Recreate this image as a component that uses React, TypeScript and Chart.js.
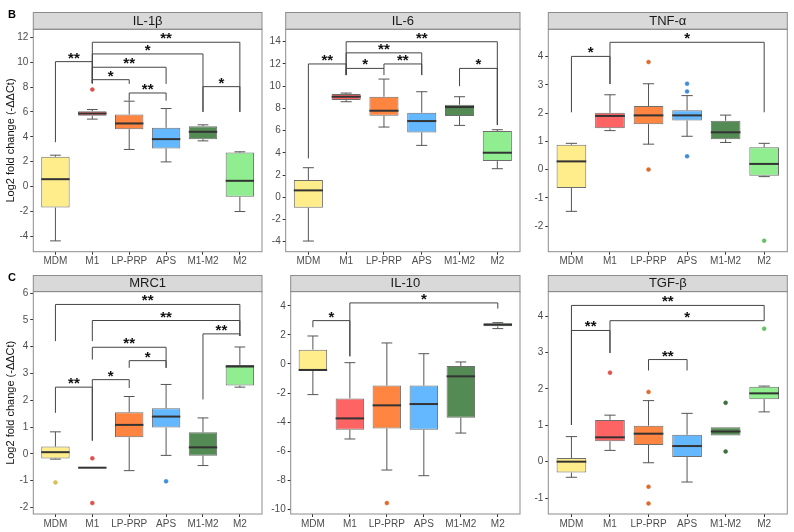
import React, { useEffect, useRef } from 'react';
import { Chart, registerables } from 'chart.js';
Chart.register(...registerables);

const categories = ['MDM', 'M1', 'LP-PRP', 'APS', 'M1-M2', 'M2'];
const boxColors = ['#FFEC8B', '#FF6464', '#FF8540', '#63B8FF', '#548B54', '#90EE90'];
const pointColors = ['#D9BE55', '#E0504A', '#E06A2A', '#3F8FD8', '#3E6E3E', '#63C063'];

// IL-1β
const il1bMin = [-4.37, 5.42, 2.98, 1.98, 3.67, -2.01];
const il1bQ1 = [-1.69, 5.68, 4.61, 3.06, 3.81, -0.83];
const il1bMedian = [0.59, 5.87, 5.07, 3.81, 4.4, 0.46];
const il1bQ3 = [2.39, 6.06, 5.79, 4.72, 4.85, 2.73];
const il1bMax = [2.52, 6.19, 6.86, 6.27, 4.96, 2.79];
const il1bOutliers = [[1, 7.8]];
const il1bTicks = [-4, -2, 0, 2, 4, 6, 8, 10, 12];
// [from, to, bracket y, left end, right end, label]
const il1bBrackets = [
  [1, 5, 11.6, 8.3, 6.0, '**'],
  [1, 4, 10.66, 8.3, 6.0, '*'],
  [0, 1, 10.04, 3.56, 8.3, '**'],
  [1, 3, 9.59, 8.3, 8.25, '**'],
  [1, 2, 8.59, 8.3, 8.25, '*'],
  [4, 5, 8.03, 6.0, 6.0, '*'],
  [2, 3, 7.52, 6.9, 6.9, '**'],
];

// IL-6
const il6Min = [-3.94, 8.6, 6.32, 4.67, 6.47, 2.57];
const il6Q1 = [-0.94, 8.75, 7.34, 5.84, 7.31, 3.26];
const il6Median = [0.62, 9.05, 7.79, 6.86, 8.12, 4.01];
const il6Q3 = [1.55, 9.29, 9.05, 7.61, 8.33, 5.96];
const il6Max = [2.66, 9.38, 10.64, 9.5, 9.05, 6.08];
const il6Outliers: number[][] = [];
const il6Ticks = [-4, -2, 0, 2, 4, 6, 8, 10, 12, 14];
const il6Brackets = [
  [1, 5, 14.0, 11.0, 6.5, '**'],
  [1, 3, 13.0, 11.0, 11.0, '**'],
  [0, 1, 12.0, 3.5, 11.0, '**'],
  [2, 3, 12.0, 11.6, 11.0, '**'],
  [1, 2, 11.6, 11.0, 11.0, '*'],
  [4, 5, 11.6, 10.0, 6.5, '*'],
];

// TNF-α
const tnfMin = [-1.48, 1.38, 0.9, 1.18, 0.96, -0.25];
const tnfQ1 = [-0.65, 1.46, 1.61, 1.74, 1.07, -0.22];
const tnfMedian = [0.29, 1.9, 1.92, 1.92, 1.32, 0.2];
const tnfQ3 = [0.88, 2.01, 2.25, 2.1, 1.73, 0.79];
const tnfMax = [0.93, 2.65, 3.04, 2.62, 1.93, 0.93];
const tnfOutliers = [[2, 3.81], [2, 0.0], [3, 3.04], [3, 2.77], [3, 0.47], [5, -2.52]];
const tnfTicks = [-2, -1, 0, 1, 2, 3, 4];
const tnfBrackets = [
  [1, 5, 4.51, 3.03, 2.03, '*'],
  [0, 1, 4.01, 2.03, 3.03, '*'],
];

// MRC1
const mrc1Min = [-0.2, -0.52, -0.63, -0.06, -0.44, 2.49];
const mrc1Q1 = [-0.18, -0.52, 0.62, 0.98, -0.07, 2.55];
const mrc1Median = [0.06, -0.52, 1.08, 1.39, 0.24, 3.26];
const mrc1Q3 = [0.27, -0.52, 1.55, 1.7, 0.8, 3.32];
const mrc1Max = [0.82, -0.52, 2.14, 2.59, 1.34, 3.99];
const mrc1Outliers = [[0, -1.07], [1, -0.17], [1, -1.84], [3, -1.03]];
const mrc1Ticks = [-2, -1, 0, 1, 2, 3, 4, 5, 6];
const mrc1Brackets = [
  [0, 5, 5.58, 4.21, 4.4, '**'],
  [1, 5, 4.98, 4.21, 4.4, '**'],
  [4, 5, 4.48, 2.03, 4.4, '**'],
  [1, 3, 3.98, 3.52, 3.21, '**'],
  [2, 3, 3.48, 3.21, 3.21, '*'],
  [1, 2, 2.77, 0.49, 2.46, '*'],
  [0, 1, 2.49, 1.53, 0.49, '**'],
];

// IL-10
const il10Min = [-2.11, -5.17, -7.31, -7.7, -4.76, 2.44];
const il10Q1 = [-0.48, -4.53, -4.44, -4.53, -3.7, 2.6];
const il10Median = [-0.41, -3.75, -2.85, -2.76, -0.85, 2.71];
const il10Q3 = [0.99, -2.37, -1.49, -1.49, -0.14, 2.8];
const il10Max = [1.93, 0.09, 1.45, 0.71, 0.14, 2.85];
const il10Outliers = [[2, -9.59]];
const il10Ticks = [-10, -8, -6, -4, -2, 0, 2, 4];
const il10Brackets = [
  [1, 5, 4.21, 0.53, 3.82, '*'],
  [0, 1, 2.99, 2.53, 0.53, '*'],
];

// TGF-β
const tgfMin = [-0.43, 0.31, -0.03, -0.56, 0.72, 1.37];
const tgfQ1 = [-0.3, 0.56, 0.46, 0.13, 0.72, 1.72];
const tgfMedian = [0.0, 0.67, 0.77, 0.43, 0.83, 1.88];
const tgfQ3 = [0.1, 1.15, 0.99, 0.74, 0.95, 2.06];
const tgfMax = [0.69, 1.28, 1.68, 1.33, 0.95, 2.08];
const tgfOutliers = [[1, 2.45], [2, 1.92], [2, -0.69], [2, -1.15], [4, 1.62], [4, 0.28], [5, 3.66]];
const tgfTicks = [-1, 0, 1, 2, 3, 4];
const tgfBrackets = [
  [0, 5, 4.3, 1.01, 3.88, '**'],
  [1, 5, 3.88, 2.99, 3.88, '*'],
  [0, 1, 3.61, 1.01, 2.99, '**'],
  [2, 3, 2.81, 2.51, 2.51, '**'],
];

const yTitleText = 'Log2 fold change (-ΔΔCt)';

const panels = [
  { key: 'il1b', title: 'IL-1β', min: il1bMin, q1: il1bQ1, med: il1bMedian, q3: il1bQ3, max: il1bMax, outliers: il1bOutliers, brackets: il1bBrackets, ticks: il1bTicks, yMin: -5.24, yMax: 12.64, yTitle: true },
  { key: 'il6', title: 'IL-6', min: il6Min, q1: il6Q1, med: il6Median, q3: il6Q3, max: il6Max, outliers: il6Outliers, brackets: il6Brackets, ticks: il6Ticks, yMin: -4.9, yMax: 15.12, yTitle: false },
  { key: 'tnf', title: 'TNF-α', min: tnfMin, q1: tnfQ1, med: tnfMedian, q3: tnfQ3, max: tnfMax, outliers: tnfOutliers, brackets: tnfBrackets, ticks: tnfTicks, yMin: -2.91, yMax: 4.97, yTitle: false },
  { key: 'mrc1', title: 'MRC1', min: mrc1Min, q1: mrc1Q1, med: mrc1Median, q3: mrc1Q3, max: mrc1Max, outliers: mrc1Outliers, brackets: mrc1Brackets, ticks: mrc1Ticks, yMin: -2.25, yMax: 6.06, yTitle: true },
  { key: 'il10', title: 'IL-10', min: il10Min, q1: il10Q1, med: il10Median, q3: il10Q3, max: il10Max, outliers: il10Outliers, brackets: il10Brackets, ticks: il10Ticks, yMin: -10.34, yMax: 4.99, yTitle: false },
  { key: 'tgf', title: 'TGF-β', min: tgfMin, q1: tgfQ1, med: tgfMedian, q3: tgfQ3, max: tgfMax, outliers: tgfOutliers, brackets: tgfBrackets, ticks: tgfTicks, yMin: -1.44, yMax: 4.68, yTitle: false },
];

const layouts = [
  { canvasLeft: 0, left: 33.3, right: 262, stripTop: 12, plotTop: 29.3, plotBottom: 251.7 },
  { canvasLeft: 264, left: 285.7, right: 520, stripTop: 12, plotTop: 29.3, plotBottom: 251.7 },
  { canvasLeft: 524, left: 548.3, right: 787.3, stripTop: 12, plotTop: 29.3, plotBottom: 251.7 },
  { canvasLeft: 0, left: 33.3, right: 262, stripTop: 274.7, plotTop: 291.3, plotBottom: 513.7 },
  { canvasLeft: 264, left: 290.7, right: 520, stripTop: 274.7, plotTop: 291.3, plotBottom: 513.7 },
  { canvasLeft: 524, left: 548.3, right: 787.3, stripTop: 274.7, plotTop: 291.3, plotBottom: 513.7 },
];

const FONT = "'Liberation Sans', Arial, Helvetica, sans-serif";

function makePlugin(p: any) {
  return {
    id: 'boxExtras_' + p.key,
    beforeDatasetsDraw(chart: any) {
      const { ctx, scales } = chart;
      const x = scales.x, y = scales.y;
      const meta = chart.getDatasetMeta(0);
      ctx.save();
      ctx.strokeStyle = '#555555';
      ctx.lineWidth = 1;
      p.q1.forEach((_: number, i: number) => {
        const el = meta.data[i];
        const cx = x.getPixelForValue(i);
        const bw = el ? el.width : 28;
        const cw = bw * 0.38;
        const pMax = y.getPixelForValue(p.max[i]);
        const pMin = y.getPixelForValue(p.min[i]);
        const pQ1 = y.getPixelForValue(p.q1[i]);
        const pQ3 = y.getPixelForValue(p.q3[i]);
        ctx.beginPath();
        if (p.max[i] > p.q3[i]) {
          ctx.moveTo(cx, pQ3); ctx.lineTo(cx, pMax);
          ctx.moveTo(cx - cw / 2, pMax); ctx.lineTo(cx + cw / 2, pMax);
        }
        if (p.min[i] < p.q1[i]) {
          ctx.moveTo(cx, pQ1); ctx.lineTo(cx, pMin);
          ctx.moveTo(cx - cw / 2, pMin); ctx.lineTo(cx + cw / 2, pMin);
        }
        ctx.stroke();
      });
      ctx.restore();
    },
    afterDatasetsDraw(chart: any) {
      const { ctx, scales } = chart;
      const x = scales.x, y = scales.y;
      const meta = chart.getDatasetMeta(0);
      ctx.save();
      // medians
      ctx.strokeStyle = '#333333';
      ctx.lineWidth = 2;
      p.med.forEach((v: number, i: number) => {
        const el = meta.data[i];
        const cx = x.getPixelForValue(i);
        const bw = el ? el.width : 28;
        const py = y.getPixelForValue(v);
        ctx.beginPath();
        ctx.moveTo(cx - bw / 2, py);
        ctx.lineTo(cx + bw / 2, py);
        ctx.stroke();
      });
      // significance brackets
      ctx.strokeStyle = '#444444';
      ctx.lineWidth = 1;
      ctx.fillStyle = '#111111';
      ctx.font = `bold 15px ${FONT}`;
      ctx.textAlign = 'center';
      ctx.textBaseline = 'alphabetic';
      p.brackets.forEach((b: any[]) => {
        const [i, j, yv, le, re, lab] = b;
        const x1 = x.getPixelForValue(i);
        const x2 = x.getPixelForValue(j);
        const yy = y.getPixelForValue(yv);
        ctx.beginPath();
        ctx.moveTo(x1, y.getPixelForValue(le));
        ctx.lineTo(x1, yy);
        ctx.lineTo(x2, yy);
        ctx.lineTo(x2, y.getPixelForValue(re));
        ctx.stroke();
        const m = ctx.measureText(lab);
        const cy = yy - 6;
        ctx.fillText(lab, (x1 + x2) / 2, cy + (m.actualBoundingBoxAscent - m.actualBoundingBoxDescent) / 2);
      });
      ctx.restore();
    },
    afterDraw(chart: any) {
      const { ctx, chartArea: a } = chart;
      ctx.save();
      // strip
      ctx.fillStyle = '#d9d9d9';
      ctx.fillRect(a.left, 0, a.right - a.left, a.top);
      ctx.strokeStyle = '#8c8c8c';
      ctx.lineWidth = 1;
      ctx.strokeRect(a.left, 0.5, a.right - a.left, a.top - 0.5);
      ctx.strokeRect(a.left, a.top, a.right - a.left, a.bottom - a.top);
      ctx.fillStyle = '#1a1a1a';
      ctx.font = `13px ${FONT}`;
      ctx.textAlign = 'center';
      ctx.textBaseline = 'middle';
      ctx.fillText(p.title, (a.left + a.right) / 2, a.top / 2 + 0.5);
      ctx.restore();
    },
  };
}

function Panel({ p, l }: { p: any; l: any }) {
  const ref = useRef<HTMLCanvasElement | null>(null);
  const w = Math.round(l.right + 2 - l.canvasLeft);
  const h = Math.round(l.plotBottom - l.stripTop + 18);
  const stripH = l.plotTop - l.stripTop;
  const xh = h - (l.plotBottom - l.stripTop);
  const yw = l.left - l.canvasLeft;
  const padRight = w - (l.right - l.canvasLeft);

  useEffect(() => {
    if (!ref.current) return;
    const tickFont = { family: FONT, size: 10 };
    const chart = new Chart(ref.current, {
      type: 'bar',
      data: {
        datasets: [
          {
            type: 'bar',
            data: categories.map((_, i) => ({ x: i, y: [p.q1[i], p.q3[i]] })),
            backgroundColor: boxColors,
            borderColor: '#6e6e6e',
            borderWidth: 1,
            borderSkipped: false,
            barPercentage: 0.77,
            categoryPercentage: 1,
            order: 2,
          } as any,
          {
            type: 'scatter',
            data: p.outliers.map((o: number[]) => ({ x: o[0], y: o[1] })),
            pointRadius: 2,
            pointBackgroundColor: p.outliers.map((o: number[]) => pointColors[o[0]]),
            pointBorderColor: p.outliers.map((o: number[]) => pointColors[o[0]]),
            pointBorderWidth: 0.5,
            showLine: false,
            order: 1,
          } as any,
        ],
      },
      options: {
        responsive: false,
        animation: false,
        events: [],
        layout: { padding: { top: stripH, right: padRight, left: 0, bottom: 0 }, autoPadding: false } as any,
        plugins: { legend: { display: false }, tooltip: { enabled: false } },
        scales: {
          x: {
            type: 'linear',
            offset: false,
            min: -0.6,
            max: 5.6,
            afterBuildTicks: (s: any) => { s.ticks = categories.map((_, i) => ({ value: i })); },
            afterFit: (s: any) => { s.height = xh; },
            ticks: {
              callback: (v: any) => categories[v as number],
              autoSkip: false,
              maxRotation: 0,
              color: '#4d4d4d',
              font: tickFont,
              padding: 1,
            },
            grid: { drawOnChartArea: false, offset: false, tickLength: 3, color: '#333333' },
            border: { display: false },
          } as any,
          y: {
            type: 'linear',
            min: p.yMin,
            max: p.yMax,
            afterBuildTicks: (s: any) => { s.ticks = p.ticks.map((v: number) => ({ value: v })); },
            afterFit: (s: any) => { s.width = yw; },
            ticks: { color: '#4d4d4d', font: tickFont, padding: 2, callback: (v: any) => String(v) },
            grid: { drawOnChartArea: false, tickLength: 3, color: '#333333' },
            border: { display: false },
            title: {
              display: p.yTitle,
              text: yTitleText,
              color: '#111111',
              font: { family: FONT, size: 11 },
              padding: { top: 4, bottom: 0 },
            },
          } as any,
        },
      },
      plugins: [makePlugin(p)],
    } as any);
    return () => chart.destroy();
  }, []);

  return (
    <div style={{ position: 'absolute', left: l.canvasLeft, top: l.stripTop, width: w, height: h }}>
      <canvas ref={ref} width={w} height={h} style={{ width: w, height: h, display: 'block' }} />
    </div>
  );
}

export default function App() {
  const letterStyle: React.CSSProperties = {
    position: 'absolute', left: 8, fontFamily: FONT, fontWeight: 'bold', fontSize: 11, lineHeight: '11px', color: '#000',
  };
  return (
    <div style={{ position: 'absolute', left: 0, top: 0, width: 794, height: 532, background: '#ffffff', overflow: 'hidden' }}>
      {panels.map((p, i) => (
        <Panel key={p.key} p={p} l={layouts[i]} />
      ))}
      <div style={{ ...letterStyle, top: 9 }}>B</div>
      <div style={{ ...letterStyle, top: 271.5 }}>C</div>
    </div>
  );
}
